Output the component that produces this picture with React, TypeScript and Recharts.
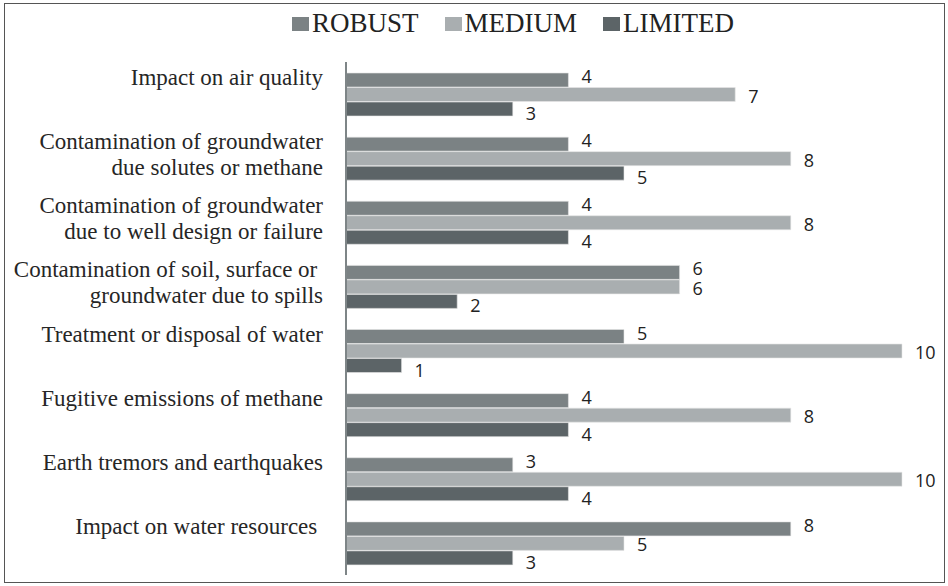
import React from 'react';
import { BarChart, Bar, XAxis, YAxis, LabelList } from 'recharts';

// categories top to bottom, lines split on \n
const categories = [
    'Impact on air quality',
    'Contamination of groundwater\ndue solutes or methane',
    'Contamination of groundwater\ndue to well design or failure',
    'Contamination of soil, surface or \ngroundwater due to spills',
    'Treatment or disposal of water',
    'Fugitive emissions of methane',
    'Earth tremors and earthquakes',
    'Impact on water resources ',
];

const robust = [4, 4, 4, 6, 5, 4, 3, 8];
const medium = [7, 8, 8, 6, 10, 8, 10, 5];
const limited = [3, 5, 4, 2, 1, 4, 4, 3];

const xTicks = [0, 10];

const COLORS = {
    robust: '#7b8284',
    medium: '#a9aeb0',
    limited: '#5c6467',
};

const chartData = categories.map((name, i) => ({
    name,
    robust: robust[i],
    medium: medium[i],
    limited: limited[i],
}));

const CategoryTick = (props: any) => {
    const { x, y, payload } = props;
    const lines = String(payload.value).split('\n');
    return (
        <text
            x={x}
            y={y - 9}
            textAnchor="end"
            fill="#262626"
            fontSize={23}
            fontFamily="'Liberation Serif', 'Times New Roman', serif"
            style={{ whiteSpace: 'pre' }}
        >
            {lines.map((line, i) => (
                <tspan key={i} x={x} dy={i === 0 ? 0 : 26}>
                    {line}
                </tspan>
            ))}
        </text>
    );
};

// value label just right of the bar end, nudged per series like the original
const valueLabel = (dy: number) => (props: any) => {
    const { x, y, width, height, value } = props;
    return (
        <text
            x={x + width + 13}
            y={y + height / 2 + dy}
            dominantBaseline="central"
            fill="#222"
            fontSize={18}
            fontFamily="'Open Sans', sans-serif"
        >
            {value}
        </text>
    );
};

const legendItems = [
    { label: 'ROBUST', color: COLORS.robust },
    { label: 'MEDIUM', color: COLORS.medium },
    { label: 'LIMITED', color: COLORS.limited },
];

export default function App() {
    return (
        <div style={{ position: 'absolute', left: 0, top: 0, width: 948, height: 586, background: '#fff' }}>
            {/* frame */}
            <div
                style={{
                    position: 'absolute',
                    left: 4,
                    top: 3,
                    width: 941,
                    height: 580,
                    border: '1.5px solid #555',
                    boxSizing: 'border-box',
                }}
            />

            {/* Legend */}
            <div
                style={{
                    position: 'absolute',
                    left: 0,
                    top: 8,
                    width: 948,
                    display: 'flex',
                    justifyContent: 'center',
                    alignItems: 'center',
                    paddingLeft: 78,
                    boxSizing: 'border-box',
                    fontFamily: "'Liberation Serif', 'Times New Roman', serif",
                    fontSize: 27,
                    color: '#222',
                    lineHeight: '30px',
                }}
            >
                {legendItems.map((item, i) => (
                    <div key={item.label} style={{ display: 'flex', alignItems: 'center', marginLeft: i === 0 ? 0 : 26 }}>
                        <span style={{ width: 17, height: 14, background: item.color, marginRight: 3, display: 'inline-block', marginTop: 2 }} />
                        <span>{item.label}</span>
                    </div>
                ))}
            </div>

            <div style={{ position: 'absolute', left: 0, top: 0 }}>
                <BarChart
                    width={948}
                    height={586}
                    data={chartData}
                    layout="vertical"
                    margin={{ top: 62, right: 46, bottom: 11, left: 0 }}
                    barSize={14}
                    barGap={0.5}
                >
                    <XAxis type="number" domain={[0, 10]} ticks={xTicks} hide />
                    <YAxis
                        type="category"
                        dataKey="name"
                        width={346}
                        interval={0}
                        tickLine={false}
                        tickSize={0}
                        tickMargin={23}
                        axisLine={{ stroke: '#7e8587', strokeWidth: 2 }}
                        tick={<CategoryTick />}
                    />
                    <Bar dataKey="robust" name="ROBUST" fill={COLORS.robust} stroke="#e6e6e6" strokeWidth={0.6} isAnimationActive={false}>
                        <LabelList dataKey="robust" content={valueLabel(-4)} />
                    </Bar>
                    <Bar dataKey="medium" name="MEDIUM" fill={COLORS.medium} stroke="#e6e6e6" strokeWidth={0.6} isAnimationActive={false}>
                        <LabelList dataKey="medium" content={valueLabel(1)} />
                    </Bar>
                    <Bar dataKey="limited" name="LIMITED" fill={COLORS.limited} stroke="#e6e6e6" strokeWidth={0.6} isAnimationActive={false}>
                        <LabelList dataKey="limited" content={valueLabel(4)} />
                    </Bar>
                </BarChart>
            </div>
        </div>
    );
}
